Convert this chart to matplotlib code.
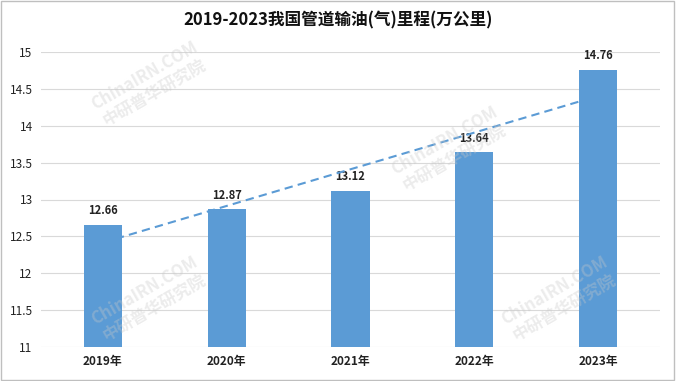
import matplotlib.pyplot as plt
import numpy as np

plt.rcParams['font.family'] = ['Noto Sans CJK SC', 'DejaVu Sans']

years = ['2019年', '2020年', '2021年', '2022年', '2023年']
mileage = [12.66, 12.87, 13.12, 13.64, 14.76]
yticks = [11, 11.5, 12, 12.5, 13, 13.5, 14, 14.5, 15]
ytick_labels = ['11', '11.5', '12', '12.5', '13', '13.5', '14', '14.5', '15']

fig = plt.figure(figsize=(6.76, 3.81), dpi=100)
ax = fig.add_axes([41/676, 34/381, 619/676, 295/381])

x = np.arange(len(years))
ax.bar(x, [v - 11 for v in mileage], bottom=11, width=0.31, color='#5b9bd5', zorder=3)
for xi, v in zip(x, mileage):
    ax.text(xi, v + 0.1, f'{v:.2f}', ha='center', va='bottom', fontsize=8, fontweight='bold', color='#222222')

# linear trend line
k, b = np.polyfit(x, mileage, 1)
ax.plot(x, k * x + b, ls=(0, (4, 2.5)), color='#5b9bd5', lw=1.5, zorder=4)

ax.set_xlim(-0.5, 4.5)
ax.set_ylim(11, 15)
ax.set_yticks(yticks)
ax.set_yticklabels(ytick_labels, fontsize=8.5, color='#222222')
ax.set_xticks(x)
ax.set_xticklabels(years, fontsize=8.5, fontweight='bold', color='#222222')
ax.tick_params(length=0, pad=6)
ax.grid(axis='y', color='#d9d9d9', lw=0.8, zorder=0)
for s in ax.spines.values():
    s.set_visible(False)

fig.text(0.5, 0.945, '2019-2023我国管道输油(气)里程(万公里)', ha='center', va='center',
         fontsize=12, fontweight='bold', color='#111111')

# faint watermarks
for px, py in [(150, 85), (450, 150), (150, 300), (560, 300)]:
    fig.text(px/676, 1 - py/381, 'ChinaIRN.COM\n中研普华研究院', rotation=30, ha='center', va='center',
             fontsize=12, fontweight='bold', color='#c8c8c8', alpha=0.35, zorder=0)

# outer border
fig.patches.append(plt.Rectangle((0.002, 0.003), 0.995, 0.994, transform=fig.transFigure,
                                 fill=False, edgecolor='#bfbfbf', lw=1))

fig.savefig('out.png', dpi=100)
